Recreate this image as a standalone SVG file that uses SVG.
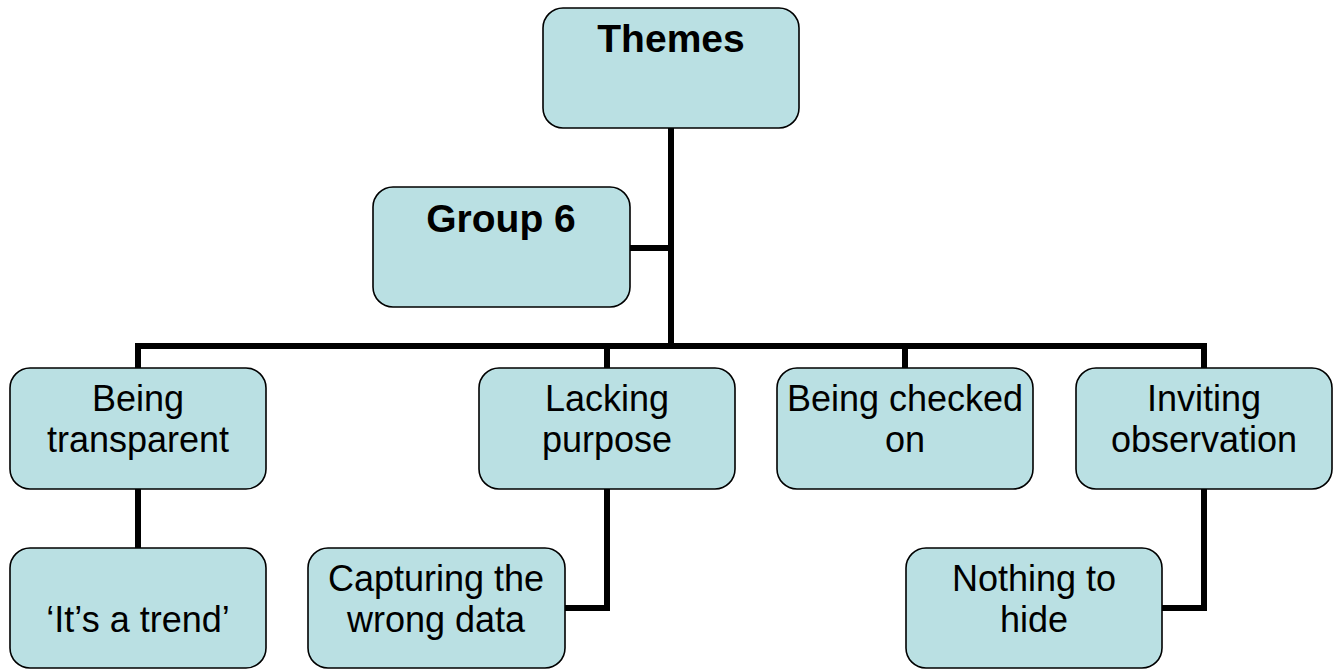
<svg xmlns="http://www.w3.org/2000/svg" width="1334" height="669" viewBox="0 0 1334 669">
  <style>
    .box { fill: #BAE0E3; stroke: #000; stroke-width: 1.6; }
    .wire { fill: none; stroke: #000; stroke-width: 6; stroke-linejoin: miter; stroke-linecap: butt; }
    .t { font-family: "Liberation Sans", Arial, sans-serif; font-size: 36px; fill: #000; text-anchor: middle; }
    .b { font-family: "Liberation Sans", Arial, sans-serif; font-size: 39px; font-weight: bold; fill: #000; text-anchor: middle; }
  </style>
  <rect width="1334" height="669" fill="#fff"/>

  <!-- connectors -->
  <g id="connectors">
    <path class="wire" d="M671,128 V346"/>
    <path class="wire" d="M630,248 H671"/>
    <path class="wire" d="M138,368 V346 H1204 V368"/>
    <path class="wire" d="M607,346 V368"/>
    <path class="wire" d="M905,346 V368"/>
    <path class="wire" d="M138,489 V548"/>
    <path class="wire" d="M607,489 V608 H565"/>
    <path class="wire" d="M1204,489 V608 H1162"/>
  </g>

  <g id="themes">
    <rect class="box" x="543" y="8" width="256" height="120" rx="20"/>
    <text class="b" x="671" y="52">Themes</text>
  </g>

  <g id="group6">
    <rect class="box" x="373" y="187" width="257" height="120" rx="20"/>
    <text class="b" x="501" y="232">Group 6</text>
  </g>

  <g id="being-transparent">
    <rect class="box" x="10" y="368" width="256" height="121" rx="20"/>
    <text class="t" x="138" y="411">Being</text>
    <text class="t" x="138" y="452">transparent</text>
  </g>

  <g id="lacking-purpose">
    <rect class="box" x="479" y="368" width="256" height="121" rx="20"/>
    <text class="t" x="607" y="411">Lacking</text>
    <text class="t" x="607" y="452">purpose</text>
  </g>

  <g id="being-checked-on">
    <rect class="box" x="777" y="368" width="256" height="121" rx="20"/>
    <text class="t" x="905" y="411">Being checked</text>
    <text class="t" x="905" y="452">on</text>
  </g>

  <g id="inviting-observation">
    <rect class="box" x="1076" y="368" width="256" height="121" rx="20"/>
    <text class="t" x="1204" y="411">Inviting</text>
    <text class="t" x="1204" y="452">observation</text>
  </g>

  <g id="its-a-trend">
    <rect class="box" x="10" y="548" width="256" height="120" rx="20"/>
    <text class="t" x="138" y="632">‘It’s a trend’</text>
  </g>

  <g id="capturing-wrong-data">
    <rect class="box" x="308" y="548" width="257" height="120" rx="20"/>
    <text class="t" x="436" y="591">Capturing the</text>
    <text class="t" x="436" y="632">wrong data</text>
  </g>

  <g id="nothing-to-hide">
    <rect class="box" x="906" y="548" width="256" height="120" rx="20"/>
    <text class="t" x="1034" y="591">Nothing to</text>
    <text class="t" x="1034" y="632">hide</text>
  </g>
</svg>
